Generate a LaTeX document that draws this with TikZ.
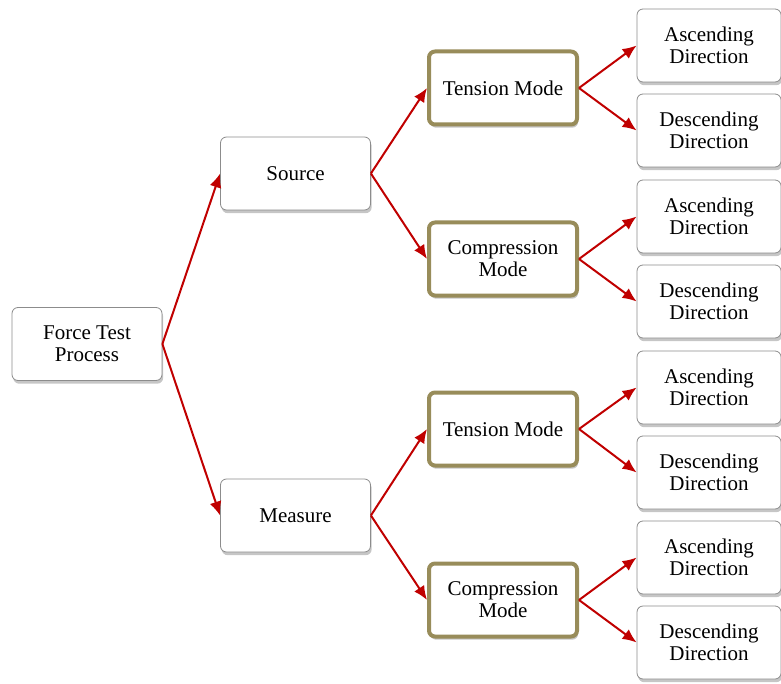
\documentclass[tikz,border=0pt]{standalone}
\usepackage{fontspec}
\setmainfont{Liberation Serif}
\usetikzlibrary{positioning,shapes,arrows.meta,shadows}
\definecolor{olivebrd}{RGB}{152,140,90}
\definecolor{arrowred}{RGB}{192,0,0}

\begin{document}
\begin{tikzpicture}[
	x=0.5pt, y=-0.5pt,
	font=\fontsize{10.5}{11}\selectfont,
	mybox/.style={draw=black!45,rounded corners=3pt,fill=white,align=center,minimum width=75pt,minimum height=36.5pt,drop shadow={opacity=0.45,shadow xshift=0.6pt,shadow yshift=-1.6pt}},
	modebox/.style={mybox,draw=olivebrd,line width=2pt,minimum width=74pt},
	leafbox/.style={mybox,minimum width=72pt}
	]
	\useasboundingbox (0,0) rectangle (781,684);
	\node[mybox] (force) at (87,344) {Force Test\\Process};
	\node[mybox] (source) at (295.5,173.5) {Source};
	\node[mybox] (measure) at (295.5,515.5) {Measure};
	\node[modebox] (tens1) at (503,88) {Tension Mode};
	\node[modebox] (comp1) at (503,259) {Compression\\Mode};
	\node[modebox] (tens2) at (503,429) {Tension Mode};
	\node[modebox] (comp2) at (503,600) {Compression\\Mode};
	\node[leafbox] (asc1) at (709,45.5) {Ascending\\Direction};
	\node[leafbox] (desc1) at (709,130.5) {Descending\\Direction};
	\node[leafbox] (asc2) at (709,216.5) {Ascending\\Direction};
	\node[leafbox] (desc2) at (709,301.5) {Descending\\Direction};
	\node[leafbox] (asc3) at (709,387.5) {Ascending\\Direction};
	\node[leafbox] (desc3) at (709,472.5) {Descending\\Direction};
	\node[leafbox] (asc4) at (709,557.5) {Ascending\\Direction};
	\node[leafbox] (desc4) at (709,642.5) {Descending\\Direction};
	\path [-{Latex[length=7pt,width=6pt]},color=arrowred,line width=1pt]
	(force.east) edge (source.west)
	(force.east) edge (measure.west)
	(source.east) edge (tens1.west)
	(source.east) edge (comp1.west)
	(measure.east) edge (tens2.west)
	(measure.east) edge (comp2.west)
	(tens1.east) edge (asc1.west)
	(tens1.east) edge (desc1.west)
	(comp1.east) edge (asc2.west)
	(comp1.east) edge (desc2.west)
	(tens2.east) edge (asc3.west)
	(tens2.east) edge (desc3.west)
	(comp2.east) edge (asc4.west)
	(comp2.east) edge (desc4.west);
\end{tikzpicture}
\end{document}
